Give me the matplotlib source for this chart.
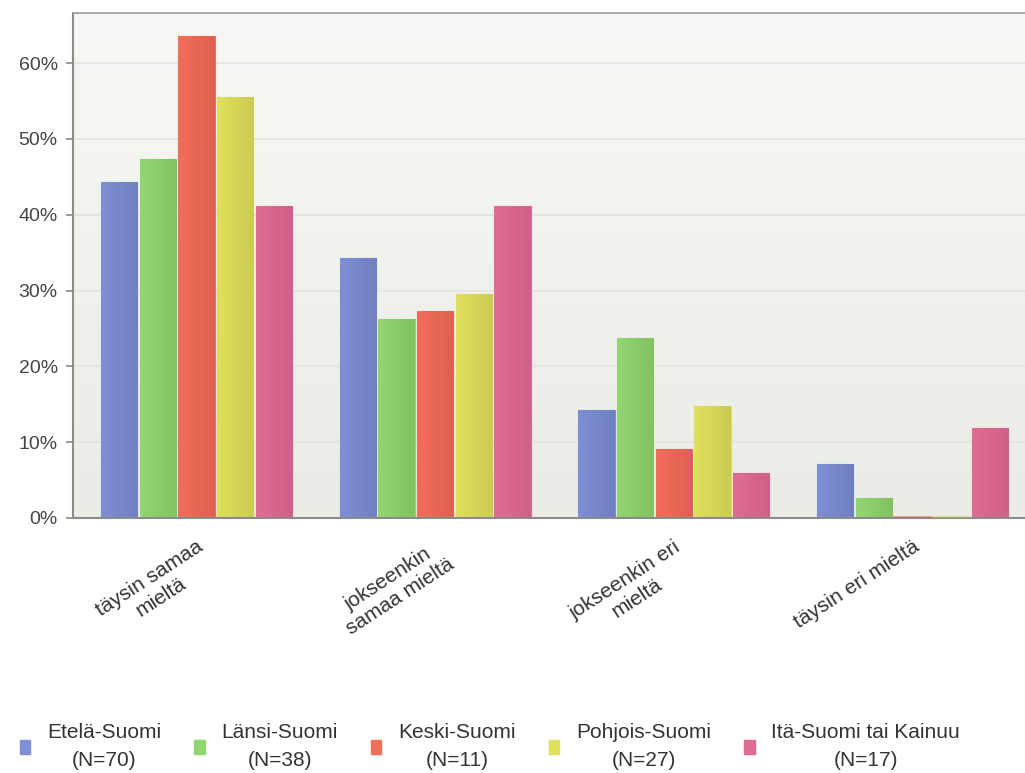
import numpy as np
import matplotlib
matplotlib.use("Agg")
import matplotlib.pyplot as plt
from matplotlib.colors import LinearSegmentedColormap
from matplotlib.patches import Rectangle

plt.rcParams['font.family'] = ['Liberation Sans', 'DejaVu Sans']

categories = ["täysin samaa\nmieltä", "jokseenkin\nsamaa mieltä", "jokseenkin eri\nmieltä", "täysin eri mieltä"]
series_names = ["Etelä-Suomi\n(N=70)", "Länsi-Suomi\n(N=38)", "Keski-Suomi\n(N=11)", "Pohjois-Suomi\n(N=27)", "Itä-Suomi tai Kainuu\n(N=17)"]
etela = [44.3, 34.3, 14.3, 7.1]
lansi = [47.4, 26.3, 23.7, 2.6]
keski = [63.6, 27.3, 9.1, 0.0]
pohjois = [55.6, 29.6, 14.8, 0.0]
ita = [41.2, 41.2, 5.9, 11.8]
series = [etela, lansi, keski, pohjois, ita]
yticks = [0, 10, 20, 30, 40, 50, 60]

light = ["#7f8fd6", "#92d672", "#f26d5a", "#e0e05c", "#e06c94"]
dark = ["#6f7fc0", "#82c260", "#de6250", "#cccb54", "#cf6087"]

fig = plt.figure(figsize=(10.25, 7.73), dpi=100)
ax = fig.add_axes([0.0712, 0.330, 0.9288, 0.653])

x = np.arange(len(categories))
slot = 0.162
width = 0.152
XL = (-0.517, 3.471)
YT = 66.6
ax.set_xlim(*XL)
ax.set_ylim(0, YT)

# background gradient
bg = LinearSegmentedColormap.from_list("bg", ["#e9ede5", "#f7f8f5"])
ax.imshow(np.linspace(0, 1, 256).reshape(-1, 1), cmap=bg, aspect='auto',
          extent=[XL[0], XL[1], 0, YT], origin='lower', zorder=0)

for v in yticks[1:]:
    ax.axhline(v, color="#e2e4e0", lw=1.2, zorder=1)

for i, vals in enumerate(series):
    pos = x + (i - 2) * slot
    bars = ax.bar(pos, vals, width=width, color=light[i], edgecolor=light[i],
                  linewidth=0.8, zorder=2)
    cmap = LinearSegmentedColormap.from_list("b%d" % i, [light[i], dark[i]])
    for b in bars:
        h = b.get_height()
        if h <= 0:
            ax.plot([b.get_x(), b.get_x() + b.get_width()], [0.1, 0.1],
                    color=dark[i], lw=1.2, zorder=3, alpha=0.6)
            continue
        im = ax.imshow(np.linspace(0, 1, 64).reshape(1, -1), cmap=cmap, aspect='auto',
                       extent=[b.get_x(), b.get_x() + b.get_width(), 0, h], zorder=2.5)
        im.set_clip_path(b)

ax.set_xticks(x)
ax.set_xticklabels(categories, rotation=33, ha='right', rotation_mode='anchor',
                   fontsize=15, color="#333333", multialignment='center')
for t in ax.get_xticklabels():
    t.set_linespacing(1.15)
ax.tick_params(axis='x', length=0, pad=14)
ax.set_yticks(yticks)
ax.set_yticklabels([f"{v}%" for v in yticks], fontsize=14, color="#444444")
ax.tick_params(axis='y', length=5, color="#888888", width=1.2, pad=6)

ax.spines["right"].set_visible(False)
ax.spines["left"].set_color("#8c8c8c")
ax.spines["left"].set_linewidth(1.5)
ax.spines["top"].set_color("#9a9a9a")
ax.spines["top"].set_linewidth(1.2)
ax.spines["bottom"].set_color("#8c8c8c")
ax.spines["bottom"].set_linewidth(1.5)

handles = [Rectangle((0, 0), 1, 1, facecolor=c, edgecolor=c) for c in light]
leg = fig.legend(handles, series_names, loc='lower center', bbox_to_anchor=(0.478, -0.02),
                 ncol=5, frameon=False, fontsize=15, handlelength=0.5, handleheight=0.7,
                 handletextpad=0.8, columnspacing=1.6, labelcolor="#333333")
for t in leg.get_texts():
    t.set_multialignment('center')
    t.set_linespacing(1.55)

fig.savefig("out.png", dpi=100, facecolor="white")
